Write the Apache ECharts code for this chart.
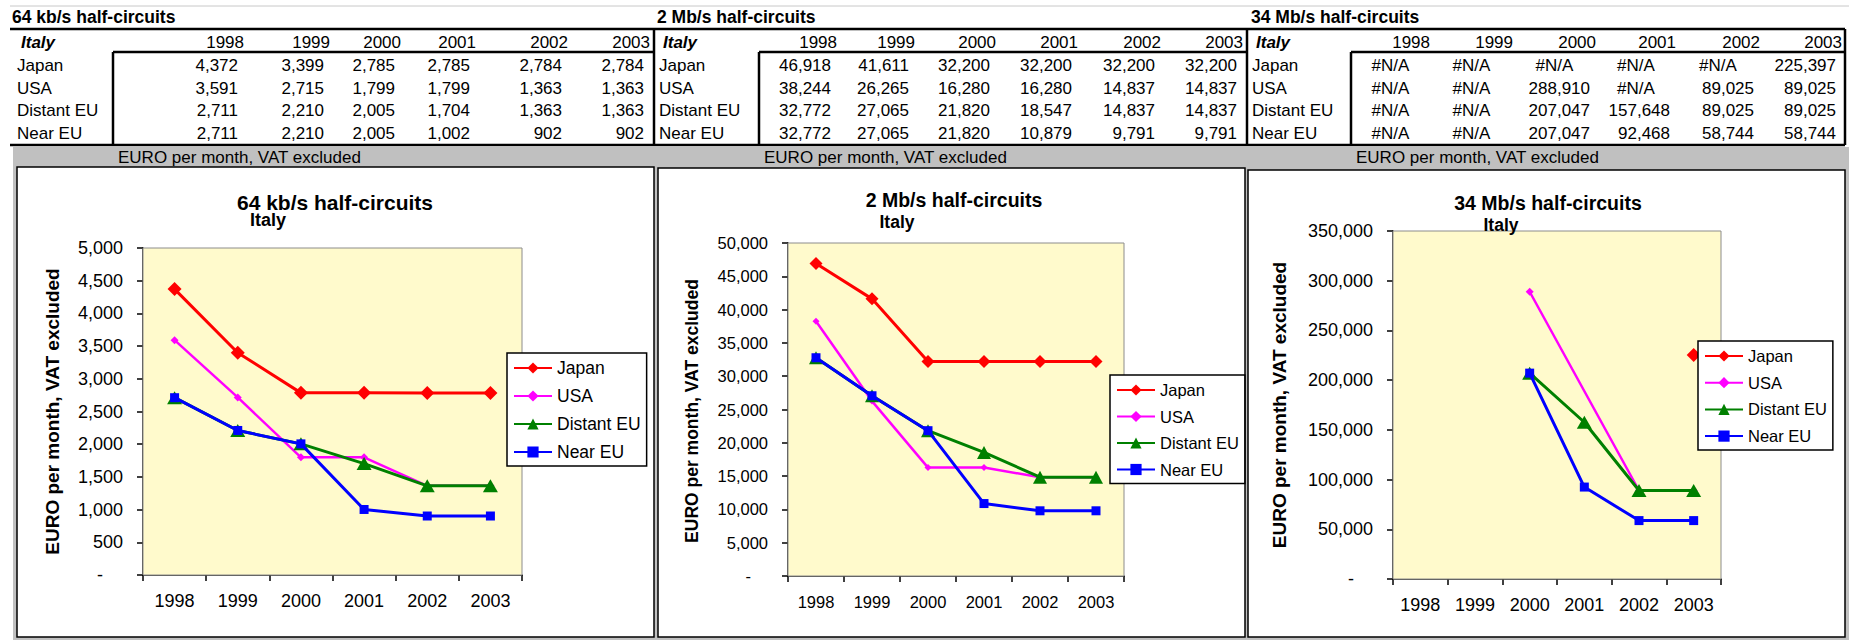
<!DOCTYPE html>
<html>
<head>
<meta charset="utf-8">
<script src="https://cdn.jsdelivr.net/npm/echarts@6/dist/echarts.min.js"></script>
<style>
html,body{margin:0;padding:0;background:#fff;}
#c{width:1849px;height:640px;}
</style>
</head>
<body>
<div id="c"></div>
<script>
// ---------- DATA ----------
const years = ['1998', '1999', '2000', '2001', '2002', '2003'];
const regions = ['Japan', 'USA', 'Distant EU', 'Near EU'];
const countryLabel = 'Italy';
const unitLabel = 'EURO per month, VAT excluded';

const kb64Japan   = [4372, 3399, 2785, 2785, 2784, 2784];
const kb64USA     = [3591, 2715, 1799, 1799, 1363, 1363];
const kb64Distant = [2711, 2210, 2005, 1704, 1363, 1363];
const kb64Near    = [2711, 2210, 2005, 1002, 902, 902];

const mb2Japan   = [46918, 41611, 32200, 32200, 32200, 32200];
const mb2USA     = [38244, 26265, 16280, 16280, 14837, 14837];
const mb2Distant = [32772, 27065, 21820, 18547, 14837, 14837];
const mb2Near    = [32772, 27065, 21820, 10879, 9791, 9791];

const mb34Japan   = [null, null, null, null, null, 225397];
const mb34USA     = [null, null, 288910, null, 89025, 89025];
const mb34Distant = [null, null, 207047, 157648, 89025, 89025];
const mb34Near    = [null, null, 207047, 92468, 58744, 58744];

const titles = ['64 kb/s half-circuits', '2 Mb/s half-circuits', '34 Mb/s half-circuits'];
const axisMax = [5000, 50000, 350000];
const axisStep = [500, 5000, 50000];

// ---------- LAYOUT / STYLE ----------
const FF = '"Liberation Sans", Arial, sans-serif';
const colors = ['#FF0000', '#FF00FF', '#008000', '#0000FF'];
const symbols = ['diamond', 'diamond', 'triangle', 'rect'];
const lineW = [3, 2.5, 3, 3];

const panels = [
  { data: [kb64Japan, kb64USA, kb64Distant, kb64Near],
    grid: {left: 143, top: 248, width: 379, height: 327},
    legend: {left: 507, top: 353, fs: 17.5, gap: 10},
    title: [335, 202, 21], italy: [268, 220, 18], yTitle: [52, 412, 19], nameGap: 81.5,
    fs: 18, zeroPad: 20, sym: [14, 8, [15, 13], 9] },
  { data: [mb2Japan, mb2USA, mb2Distant, mb2Near],
    grid: {left: 788, top: 243, width: 336, height: 333},
    legend: {left: 1110, top: 375, fs: 16.5, gap: 8.5},
    title: [954, 200, 19.5], italy: [897, 222, 17.5], yTitle: [692, 411, 17.5], nameGap: null,
    fs: 16.5, zeroPad: 17, sym: [13, 7, [14, 13], 9] },
  { data: [mb34Japan, mb34USA, mb34Distant, mb34Near],
    grid: {left: 1393, top: 231, width: 328, height: 348},
    legend: {left: 1698, top: 341, fs: 16.5, gap: 8.7},
    title: [1548, 203, 19.5], italy: [1501, 225, 17.5], yTitle: [1279, 405, 19], nameGap: null,
    fs: 18, zeroPad: 19, sym: [14, 8, [15, 13], 9] }
];

const tables = [
  { titleX: 12, labelX: 17, leftBorder: null, inner: 113, cols: [244, 330, 401, 476, 568, 650], right: 654 },
  { titleX: 657, labelX: 659, leftBorder: 654, inner: 759, cols: [837, 915, 996, 1078, 1161, 1243], right: 1247 },
  { titleX: 1251, labelX: 1252, leftBorder: 1247, inner: 1351, cols: [1430, 1513, 1596, 1676, 1760, 1842], right: 1845 }
];
const rowY = [65.5, 88, 110.5, 133];
const headY = 42, tTop = 29, tInner = 52, tBottom = 145;

const fmt = v => v == null ? '#N/A' : v.toLocaleString('en-US');

// ---------- GRAPHICS (tables, boxes, titles) ----------
const g = [];
function txt(x, y, text, font, align, vAlign, extra) {
  g.push(Object.assign({
    type: 'text', x: x, y: y, z: 50,
    style: { text: text, font: font, fill: '#000', align: align, textAlign: align,
             verticalAlign: vAlign || 'middle', textVerticalAlign: vAlign || 'middle' }
  }, extra || {}));
}
function line(x1, y1, x2, y2, w, color) {
  g.push({ type: 'line', z: 40, shape: {x1: x1, y1: y1, x2: x2, y2: y2},
           style: { stroke: color || '#000', lineWidth: w } });
}
function rect(x, y, w, h, fill, stroke, lw, z) {
  g.push({ type: 'rect', z: z, shape: {x: x, y: y, width: w, height: h},
           style: { fill: fill, stroke: stroke || null, lineWidth: lw || 0 } });
}

// gray sheet area + band
rect(13, 147, 1836, 493, '#C0C0C0', null, 0, -100);
// top faint gridline
line(10, 6, 1849, 6, 1, '#C8C8C8');

tables.forEach((t, ti) => {
  const series = panels[ti].data;
  txt(t.titleX, 17, titles[ti], 'bold 17.5px ' + FF, 'left');
  txt(t.labelX + 4, headY, countryLabel, 'italic bold 17px ' + FF, 'left');
  years.forEach((y, i) => txt(t.cols[i], headY, y, '17px ' + FF, 'right'));
  regions.forEach((r, ri) => {
    txt(t.labelX, rowY[ri], r, '17px ' + FF, 'left');
    series[ri].forEach((v, i) => {
      if (v == null) {
        const l = i === 0 ? t.inner : t.cols[i - 1];
        txt((l + t.cols[i]) / 2, rowY[ri], fmt(v), '17px ' + FF, 'center');
      } else {
        txt(t.cols[i] - 6, rowY[ri], fmt(v), '17px ' + FF, 'right');
      }
    });
  });
  const left = t.leftBorder == null ? 10 : t.leftBorder;
  line(left, tTop, t.right, tTop, 2.5);
  line(left, tBottom, t.right, tBottom, 2.5);
  line(t.right, tTop, t.right, tBottom, 2.5);
  line(t.inner, tInner, t.right, tInner, 2.5);
  line(t.inner, tInner, t.inner, tBottom, 2.5);
  txt(t.inner + 5, 157, unitLabel, '17px ' + FF, 'left');
});

// chart boxes
const boxes = [[17, 167, 637, 470], [658, 168, 587, 469], [1248, 170, 597, 467]];
boxes.forEach(b => rect(b[0], b[1], b[2], b[3], '#FFFFFF', '#000', 1.5, -90));

panels.forEach((p, pi) => {
  txt(p.title[0], p.title[1], titles[pi], 'bold ' + p.title[2] + 'px ' + FF, 'center');
  txt(p.italy[0], p.italy[1], countryLabel, 'bold ' + p.italy[2] + 'px ' + FF, 'center');
  if (p.nameGap == null) {
    g.push({ type: 'text', x: p.yTitle[0], y: p.yTitle[1], rotation: Math.PI / 2, z: 50,
      style: { text: unitLabel, font: 'bold ' + p.yTitle[2] + 'px ' + FF, fill: '#000',
               align: 'center', textAlign: 'center', verticalAlign: 'middle', textVerticalAlign: 'middle' } });
  }
});

// ---------- CHART COMPONENTS ----------
const grids = [], xAxes = [], yAxes = [], series = [], legends = [];
panels.forEach((p, pi) => {
  grids.push(Object.assign({ show: true, backgroundColor: '#FFFACC', borderColor: '#8C8C8C',
                             borderWidth: 1, z: 1 }, p.grid));
  xAxes.push({ type: 'category', gridIndex: pi, data: years, boundaryGap: true,
    axisLine: { show: true, lineStyle: { color: '#000', width: 1.5 } },
    axisTick: { show: true, length: 6, inside: false, lineStyle: { color: '#000', width: 1.5 } },
    axisLabel: { margin: 17, fontSize: p.fs, color: '#000', fontFamily: FF },
    splitLine: { show: false } });
  const ya = { type: 'value', gridIndex: pi, min: 0, max: axisMax[pi], interval: axisStep[pi],
    axisLine: { show: true, lineStyle: { color: '#000', width: 1.5 } },
    axisTick: { show: true, length: 6, inside: false, lineStyle: { color: '#000', width: 1.5 } },
    axisLabel: { margin: 20, fontSize: p.fs, color: '#000', fontFamily: FF,
      formatter: v => v === 0 ? '{z|-}' : v.toLocaleString('en-US'),
      rich: { z: { padding: [0, p.zeroPad, 0, 0], fontSize: p.fs, color: '#000', fontFamily: FF } } },
    splitLine: { show: true, showMinLine: false, showMaxLine: false,
                 lineStyle: { color: '#000', width: 1.3 } } };
  if (p.nameGap != null) {
    Object.assign(ya, { name: unitLabel, nameLocation: 'middle', nameRotate: 90, nameGap: p.nameGap,
      nameTextStyle: { fontWeight: 'bold', fontSize: p.yTitle[2], color: '#000', fontFamily: FF } });
  }
  yAxes.push(ya);
  regions.forEach((r, ri) => {
    series.push({ type: 'line', name: r, xAxisIndex: pi, yAxisIndex: pi,
      data: p.data[ri], connectNulls: true, symbol: symbols[ri], symbolSize: p.sym[ri],
      showSymbol: true, showAllSymbol: true, z: 3 + ri,
      lineStyle: { color: colors[ri], width: lineW[ri] },
      itemStyle: { color: colors[ri], borderColor: colors[ri], borderWidth: 0 },
      emphasis: { disabled: true }, silent: true });
  });
  legends.push({ show: true, orient: 'vertical', left: p.legend.left, top: p.legend.top,
    data: regions, itemWidth: 38, itemHeight: 14, itemGap: p.legend.gap,
    padding: [6, 6, 5, 6], backgroundColor: '#FFFFFF', borderColor: '#000', borderWidth: 1.5,
    borderRadius: 0, z: 20, selectedMode: false,
    textStyle: { fontSize: p.legend.fs, color: '#000', fontFamily: FF, lineHeight: 18 } });
});

const chart = echarts.init(document.getElementById('c'), null, { renderer: 'svg' });
chart.setOption({
  animation: false,
  backgroundColor: '#FFFFFF',
  textStyle: { fontFamily: FF },
  grid: grids, xAxis: xAxes, yAxis: yAxes, series: series, legend: legends,
  graphic: { elements: g }
});
</script>
</body>
</html>
